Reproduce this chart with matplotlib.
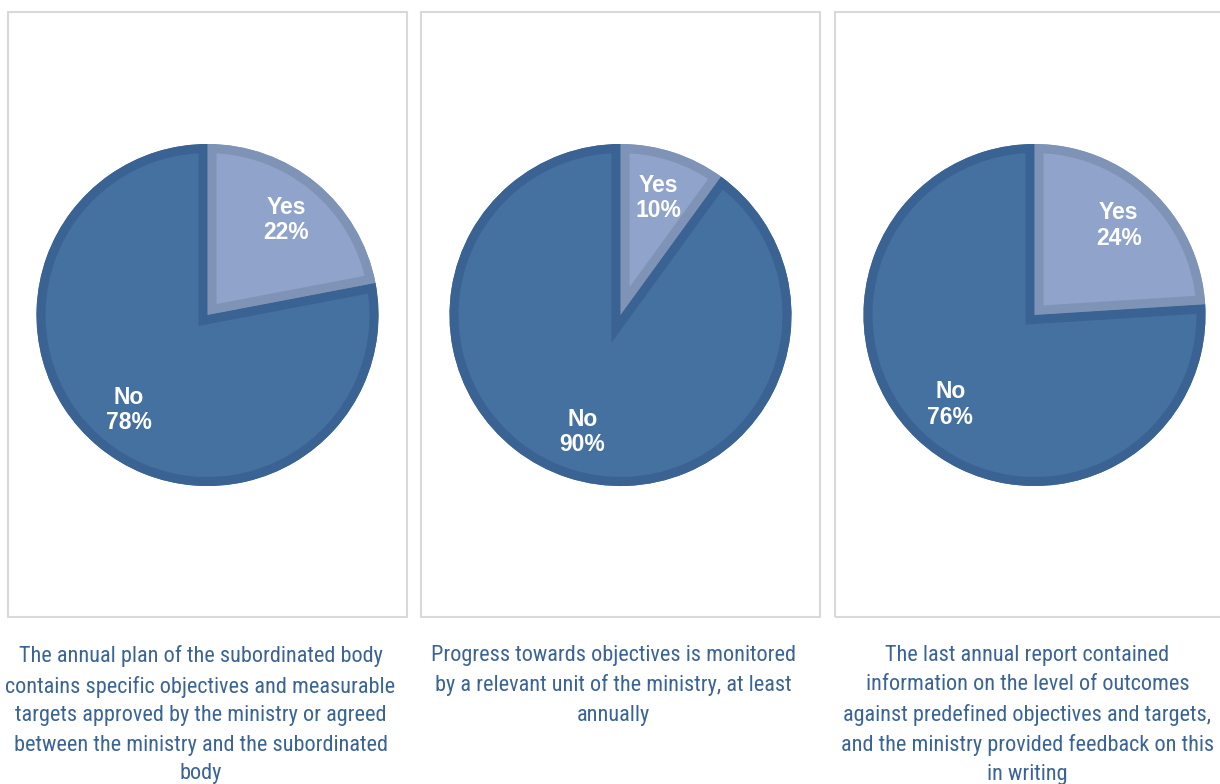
import matplotlib
matplotlib.use("Agg")
import matplotlib.pyplot as plt
import numpy as np
from matplotlib.patches import Rectangle, Wedge

plt.rcParams["font.family"] = ["Liberation Sans", "DejaVu Sans"]

# ─── data ────────────────────────────────────────────────────────────────────
categories = ["Yes", "No"]
yes_share = [22, 10, 24]
no_share = [78, 90, 76]
captions = [
    "The annual plan of the subordinated body\ncontains specific objectives and measurable\n"
    "targets approved by the ministry or agreed\nbetween the ministry and the subordinated\nbody",
    "Progress towards objectives is monitored\nby a relevant unit of the ministry, at least\nannually",
    "The last annual report contained\ninformation on the level of outcomes\n"
    "against predefined objectives and targets,\nand the ministry provided feedback on this\nin writing",
]

# ─── styles ──────────────────────────────────────────────────────────────────
FILL = ["#8fa3cb", "#44719f"]
EDGE = ["#7e93b6", "#3a6394"]
TEXT_BLUE = "#3b6496"
BOX_GREY = "#d9d9d9"
BORDER_LW = 13  # points, half of it ends up visible inside each slice
CAPTION_FONT = ["Roboto Condensed", "Archivo Narrow", "Liberation Sans", "DejaVu Sans"]

W, H = 1220, 784
fig = plt.figure(figsize=(W / 100, H / 100), dpi=100)
ax = fig.add_axes([0, 0, 1, 1])

box_left = [8, 421, 835]
box_width = 399
box_top, box_bottom = 12, 617
radius = 171
pie_cy = H - 315

for i, (yes, no, cap) in enumerate(zip(yes_share, no_share, captions)):
    x0 = box_left[i]
    cx = x0 + box_width / 2
    ax.add_patch(Rectangle((x0, H - box_bottom), box_width, box_bottom - box_top,
                           fill=False, edgecolor=BOX_GREY, linewidth=1.5))

    wedges, _ = ax.pie([yes, no], colors=FILL, startangle=90, counterclock=False,
                       center=(cx, pie_cy), radius=radius, frame=True,
                       wedgeprops=dict(linewidth=0))
    # border kept on the inside of each slice
    for w, ec in zip(wedges, EDGE):
        rim = Wedge(w.center, w.r, w.theta1, w.theta2, fill=False,
                    edgecolor=ec, linewidth=BORDER_LW, zorder=w.get_zorder() + 0.1)
        ax.add_patch(rim)
        rim.set_clip_path(w)

    for w, cat, val in zip(wedges, categories, [yes, no]):
        mid = np.deg2rad((w.theta1 + w.theta2) / 2)
        tx = cx + 0.72 * radius * np.cos(mid)
        ty = pie_cy + 0.72 * radius * np.sin(mid)
        ax.text(tx, ty, f"{cat}\n{val}%", ha="center", va="center", color="white",
                fontsize=16.5, fontweight="bold", linespacing=1.15, zorder=5)

    ax.text(cx - 7, H - 645, cap, ha="center", va="top", color=TEXT_BLUE,
            fontsize=16, linespacing=1.5, family=CAPTION_FONT)

ax.set_xlim(0, W)
ax.set_ylim(0, H)
ax.set_aspect("equal")
ax.axis("off")

fig.savefig("out.png", dpi=100)
